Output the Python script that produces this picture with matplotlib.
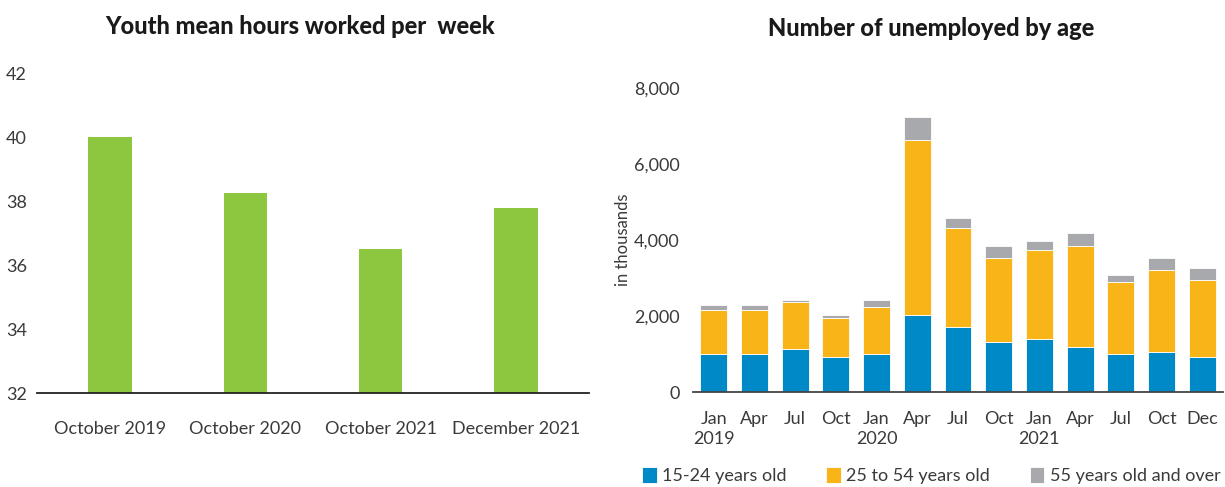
import numpy as np
import matplotlib.pyplot as plt

plt.rcParams['font.family'] = ['Lato', 'DejaVu Sans']

# left panel
periods = ['October 2019', 'October 2020', 'October 2021', 'December 2021']
hours = [40.0, 38.25, 36.5, 37.77]

# right panel, thousands
months = ['Jan\n2019', 'Apr', 'Jul', 'Oct', 'Jan\n2020', 'Apr', 'Jul', 'Oct',
          'Jan\n2021', 'Apr', 'Jul', 'Oct', 'Dec']
age_15_24 = [1000, 1000, 1120, 930, 1000, 2030, 1700, 1330, 1390, 1190, 1000, 1060, 930]
age_25_54 = [1170, 1170, 1250, 1030, 1230, 4610, 2610, 2200, 2340, 2660, 1890, 2150, 2010]
age_55_up = [130, 130, 60, 70, 200, 590, 260, 320, 250, 330, 200, 320, 330]

green = '#8DC63F'
blue = '#0089C7'
orange = '#F9B418'
grey = '#A7A9AC'
txt = '#3a3a3a'

fig = plt.figure(figsize=(12.25, 4.87), dpi=100)

ax1 = fig.add_axes([0.030, 0.193, 0.451, 0.657])
x1 = np.arange(len(periods))
ax1.bar(x1, hours, width=0.32, color=green, zorder=2)
ax1.set_ylim(32, 42)
ax1.set_xlim(-0.54, 3.54)
ax1.set_yticks([32, 34, 36, 38, 40, 42])
ax1.set_xticks(x1)
ax1.set_xticklabels(periods)
for s in ['top', 'right', 'left']:
    ax1.spines[s].set_visible(False)
ax1.spines['bottom'].set_color('#222222')
ax1.spines['bottom'].set_linewidth(1.3)
ax1.tick_params(axis='both', length=0, labelsize=13, colors=txt)
ax1.tick_params(axis='x', pad=20)
ax1.tick_params(axis='y', pad=7)
fig.text(0.245, 0.945, 'Youth mean hours worked per  week', ha='center', va='center',
         fontsize=17, fontweight='black', color='#1a1a1a')

ax2 = fig.add_axes([0.566, 0.195, 0.432, 0.624])
x2 = np.arange(len(months))
b1 = np.array(age_15_24)
b2 = np.array(age_25_54)
b3 = np.array(age_55_up)
ax2.bar(x2, b1, width=0.66, color=blue, edgecolor='white', linewidth=0.6,
        label='15-24 years old', zorder=2)
ax2.bar(x2, b2, width=0.66, bottom=b1, color=orange, edgecolor='white', linewidth=0.6,
        label='25 to 54 years old', zorder=2)
ax2.bar(x2, b3, width=0.66, bottom=b1 + b2, color=grey, edgecolor='white', linewidth=0.6,
        label='55 years old and over', zorder=2)
ax2.set_ylim(0, 8000)
ax2.set_xlim(-0.5, 12.5)
ax2.set_yticks([0, 2000, 4000, 6000, 8000])
ax2.set_yticklabels(['0', '2,000', '4,000', '6,000', '8,000'])
ax2.set_xticks(x2)
ax2.set_xticklabels(months, linespacing=1.3, va='top')
for s in ['top', 'right', 'left']:
    ax2.spines[s].set_visible(False)
ax2.spines['bottom'].set_color('#444444')
ax2.spines['bottom'].set_linewidth(1.3)
ax2.tick_params(axis='both', length=0, labelsize=13, colors=txt)
ax2.tick_params(axis='x', pad=14)
ax2.tick_params(axis='y', pad=10)
ax2.set_ylabel('in thousands', fontsize=12, color=txt, labelpad=2)
fig.text(0.760, 0.942, 'Number of unemployed by age', ha='center', va='center',
         fontsize=17, fontweight='black', color='#1a1a1a')

fig.legend(loc='lower right', bbox_to_anchor=(1.005, -0.016), ncol=3, frameon=False,
           fontsize=13, handlelength=0.8, handleheight=1.0, handletextpad=0.3,
           columnspacing=2.2, labelcolor=txt, borderaxespad=0.2)

fig.savefig('out.png', dpi=100)
